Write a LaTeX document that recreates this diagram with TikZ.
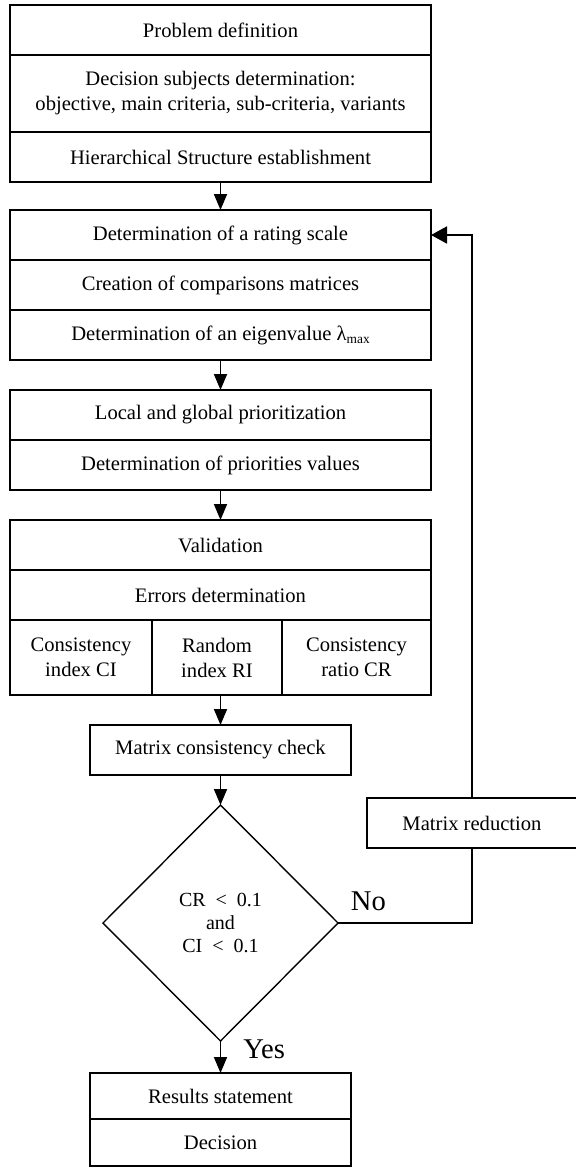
\documentclass[tikz,border=0pt]{standalone}
\usepackage{fontspec}
\setmainfont{Liberation Serif}
\usetikzlibrary{arrows.meta, shapes.geometric, positioning}

\begin{document}
\begin{tikzpicture}[>={Triangle[width=6.5pt,length=8pt]},line width=0.9pt,node distance=15pt,
  font=\fontsize{10.3}{12.5}\selectfont,
  row node/.style={rectangle,draw,inner sep=0pt,outer sep=0pt,minimum width=210.5pt,minimum height=25pt,align=center},
  small node/.style={row node,minimum width=130.5pt},
  cell node/.style={row node,minimum height=37.5pt,anchor=north west},
  test node/.style={diamond,draw,line width=0.7pt,inner sep=0pt,outer sep=0pt,minimum width=117.5pt,minimum height=118pt,
    align=center,font=\fontsize{10}{11.5}\selectfont},
  answer/.style={inner sep=0pt,anchor=base west,font=\fontsize{14.3}{16}\selectfont}]
  \useasboundingbox (0,0) rectangle (288pt,-584pt);
  % problem structuring
  \node[row node] (prob) at (110.25pt,-15pt) {Problem definition};
  \node[row node,minimum height=38.5pt] (subj) [below=0pt of prob] {Decision subjects determination:\\objective, main criteria, sub-criteria, variants};
  \node[row node] (hier) [below=0pt of subj] {Hierarchical Structure establishment};
  % pairwise comparisons
  \node[row node] (rating) [below=14pt of hier] {Determination of a rating scale};
  \node[row node] (compare) [below=0pt of rating] {Creation of comparisons matrices};
  \node[row node] (eigen) [below=0pt of compare] {Determination of an eigenvalue λ\raisebox{-0.4ex}{\fontsize{6.7}{7}\selectfont max}};
  % priorities
  \node[row node] (local) [below=of eigen] {Local and global prioritization};
  \node[row node] (prio) [below=0pt of local] {Determination of priorities values};
  % validation
  \node[row node] (valid) [below=of prio] {Validation};
  \node[row node] (errors) [below=0pt of valid] {Errors determination};
  \node[cell node,minimum width=71pt] (ci) at (errors.south west) {Consistency\\index CI};
  \node[cell node,minimum width=65pt] (ri) at (ci.north east) {Random\\index RI};
  \node[cell node,minimum width=74.5pt] (cr) at (ri.north east) {Consistency\\ratio CR};
  % check and decision
  \node[small node] (check) [below=52.5pt of errors] {Matrix consistency check};
  \node[test node] (dec) [below=of check] {CR\enspace<\enspace0.1\\and\\CI\enspace<\enspace0.1};
  \node[small node,minimum height=23pt] (result) [below=16pt of dec] {Results statement};
  \node[small node,minimum height=23.5pt] (final) [below=0pt of result] {Decision};
  \node[row node,minimum width=105pt] (reduce) at (236pt,-411.5pt) {Matrix reduction};
  \node[answer] (no) at ([xshift=6pt,yshift=6.5pt]dec.east) {No};
  \node[answer] (yes) at ([xshift=11pt,yshift=-8.5pt]dec.south) {Yes};
  \foreach \s/\t in {hier/rating, eigen/local, prio/valid, ri/check, check/dec, dec/result}
    {\draw[->] (\t.north |- \s.south) -- (\t.north);}
  \draw[line width=0.7pt] (dec.east) -- (dec.east -| reduce) -- (reduce.south);
  \draw[-{Triangle[width=8.5pt,length=8pt]}] (reduce.north) |- (rating.east);
\end{tikzpicture}
\end{document}
